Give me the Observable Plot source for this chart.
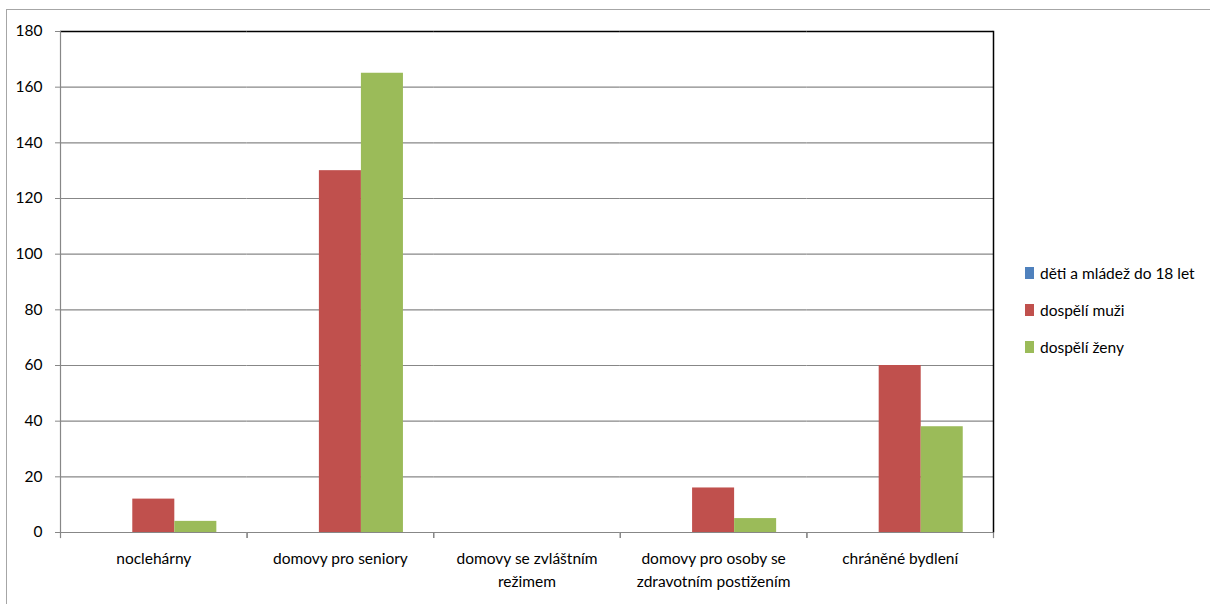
<!DOCTYPE html>
<html><head><meta charset="utf-8">
<script src="https://cdn.jsdelivr.net/npm/d3@7"></script>
<script src="https://cdn.jsdelivr.net/npm/@observablehq/plot@0.6"></script>
<style>
body{margin:0;background:#fff;font-family:Lato, "Open Sans", sans-serif;}
#wrap{position:relative;width:1210px;height:604px;overflow:hidden;background:#fff}
#frame{position:absolute;left:6px;top:9px;width:1210px;height:600px;border:1px solid #a6a6a6;box-sizing:border-box}
#chart{position:absolute;left:0;top:0}
#legend{position:absolute;left:1025px;top:254px;font-size:15.5px;color:#000}
.item{display:flex;align-items:center;height:37px}
.sw{width:9px;height:12px;margin-right:6px}
</style></head><body>
<div id="wrap"><div id="frame"></div><div id="chart"></div><div id="legend"></div></div>
<script>
const categories = ["noclehárny","domovy pro seniory","domovy se zvláštním režimem","domovy pro osoby se zdravotním postižením","chráněné bydlení"];
const tickLabels = ["noclehárny","domovy pro seniory","domovy se zvláštním\nrežimem","domovy pro osoby se\nzdravotním postižením","chráněné bydlení"];
const series = ["děti a mládež do 18 let","dospělí muži","dospělí ženy"];
const children = [0,0,0,0,0];
const men = [12,130,0,16,60];
const women = [4,165,0,5,38];
const colors = ["#4F81BD","#C0504D","#9BBB59"];
const yTicks = [0,20,40,60,80,100,120,140,160,180];

const values = [children, men, women];
const data = [];
categories.forEach((c,i)=>series.forEach((s,j)=>data.push({category:c, series:s, value:values[j][i]})));

const chart = Plot.plot({
  width: 1000, height: 604,
  marginLeft: 60, marginRight: 7, marginTop: 31, marginBottom: 72,
  style: {fontFamily: "Lato, 'Open Sans', sans-serif", fontSize: "15.5px", color: "#000", background: "transparent"},
  fx: {domain: categories, padding: 0, label: null, axis: null, round: false},
  x: {domain: series, padding: 0, paddingOuter: 0.72, axis: null, round: false},
  y: {domain: [0,180], axis: null, label: null},
  color: {domain: series, range: colors},
  marks: [
    Plot.ruleY(yTicks.slice(1,-1), {stroke: "#878787", strokeWidth: 1.2}),
    Plot.ruleY([180], {stroke: "#000", strokeWidth: 1.5}),
    Plot.barY(data, {fx: "category", x: "series", y: "value", fill: "series", inset: 0}),
    Plot.ruleY([0], {stroke: "#878787", strokeWidth: 1.2}),
    Plot.frame({anchor: "left", stroke: "#878787", strokeWidth: 1.2, insetTop: 501, insetBottom: -5}),
    Plot.frame({anchor: "right", stroke: "#878787", strokeWidth: 1.2, insetTop: 501, insetBottom: -5}),
    Plot.frame({anchor: "left", stroke: "#878787", strokeWidth: 1.2, facetAnchor: "left"}),
    Plot.frame({anchor: "right", stroke: "#000", strokeWidth: 1.5, insetBottom: 1, facetAnchor: "right"}),
    Plot.axisY({ticks: yTicks, tickSize: 5, tickPadding: 13, stroke: "#878787", fill: "#000", fontSize: 15.5, label: null}),
    Plot.axisFx({anchor: "bottom", tickSize: 0, tickPadding: 15, lineHeight: 1.5, fill: "#000", fontSize: 15.5, label: null,
      tickFormat: d => tickLabels[categories.indexOf(d)]})
  ]
});
document.getElementById("chart").appendChild(chart);

const lg = document.getElementById("legend");
series.forEach((s,i)=>{
  const it = document.createElement("div"); it.className = "item";
  const sw = document.createElement("div"); sw.className = "sw"; sw.style.background = colors[i];
  const tx = document.createElement("span"); tx.textContent = s;
  it.appendChild(sw); it.appendChild(tx); lg.appendChild(it);
});
</script>
</body></html>
